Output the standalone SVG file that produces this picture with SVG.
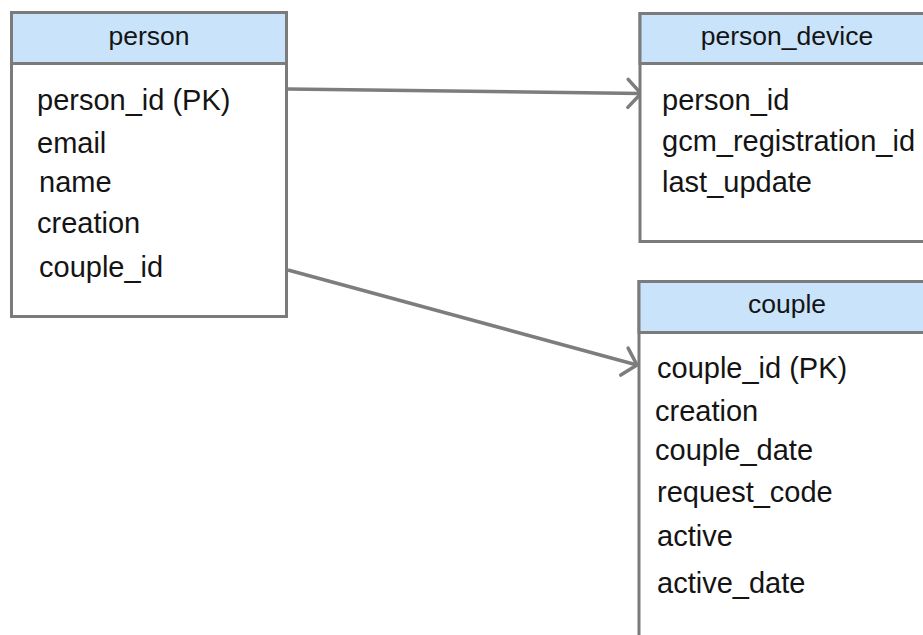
<svg xmlns="http://www.w3.org/2000/svg" width="923" height="635" viewBox="0 0 923 635">
<defs>
<style>
.box{fill:#ffffff;stroke:#7b7b7b;stroke-width:3}
.hdr{fill:#c9e3fa;stroke:#7b7b7b;stroke-width:3}
.title{font-family:"Liberation Sans",Arial,sans-serif;font-size:26.5px;fill:#141414;text-anchor:middle}
.attr{font-family:"Liberation Sans",Arial,sans-serif;font-size:29px;fill:#141414}
.conn{fill:none;stroke:#7d7d7d;stroke-width:3.5}
</style>
<marker id="open" markerUnits="userSpaceOnUse" markerWidth="30" markerHeight="40" viewBox="-20 -20 30 40" refX="0" refY="0" orient="auto">
<path d="M-13,-14 L0,0 L-13,14" fill="none" stroke="#7d7d7d" stroke-width="3.5" stroke-linecap="round" stroke-linejoin="round"/>
</marker>
</defs>
<rect width="923" height="635" fill="#ffffff"/>
<g id="connectors">
<line class="conn" x1="288" y1="89" x2="641" y2="93.5" marker-end="url(#open)"/>
<line class="conn" x1="288" y1="270" x2="637" y2="365" marker-end="url(#open)"/>
</g>
<g id="person">
<rect class="box" x="11.5" y="12.5" width="275" height="304"/>
<rect class="hdr" x="11.5" y="12.5" width="275" height="51"/>
<text class="title" x="149" y="45">person</text>
<text class="attr" x="37" y="110">person_id (PK)</text>
<text class="attr" x="37" y="153">email</text>
<text class="attr" x="39" y="192">name</text>
<text class="attr" x="37" y="233">creation</text>
<text class="attr" x="39" y="277">couple_id</text>
</g>
<g id="person_device">
<rect class="box" x="640" y="13.5" width="300" height="228"/>
<rect class="hdr" x="640" y="13.5" width="300" height="50"/>
<text class="title" x="787" y="45">person_device</text>
<text class="attr" x="662" y="110">person_id</text>
<text class="attr" x="662" y="151">gcm_registration_id</text>
<text class="attr" x="662" y="192">last_update</text>
</g>
<g id="couple">
<rect class="box" x="639" y="281.5" width="300" height="400"/>
<rect class="hdr" x="639" y="281.5" width="300" height="51"/>
<text class="title" x="787" y="313">couple</text>
<text class="attr" x="657" y="378">couple_id (PK)</text>
<text class="attr" x="655" y="421">creation</text>
<text class="attr" x="655" y="460">couple_date</text>
<text class="attr" x="657" y="502">request_code</text>
<text class="attr" x="657" y="546">active</text>
<text class="attr" x="657" y="593">active_date</text>
</g>
</svg>
